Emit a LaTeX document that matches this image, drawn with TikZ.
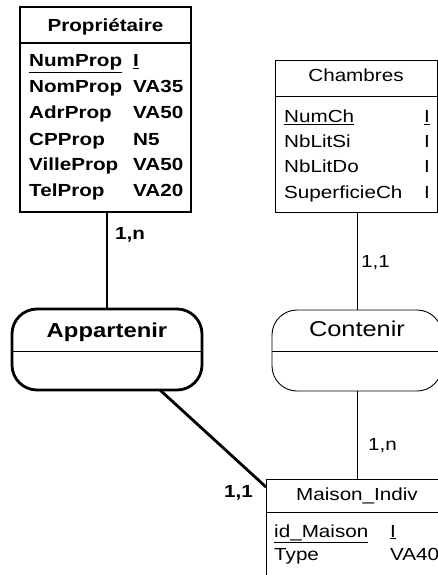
\documentclass[tikz,border=0pt]{standalone}
\usepackage{fontspec}
\setmainfont[FakeStretch=1.18]{Liberation Sans}
\usetikzlibrary{positioning}

\begin{document}
\begin{tikzpicture}[
        x=1pt, y=1pt,
        entite/.style={
            rectangle, draw = black, line width = 0.9pt, inner sep = 0pt, outer sep = 0pt
        },
        entiteForte/.style={
            entite, line width = 2.8pt
        },
        association/.style={
            rectangle, rounded corners = 25pt, draw = black, line width = 0.9pt, inner sep = 0pt, outer sep = 0pt
        },
        texte/.style={
            inner sep = 0pt, anchor = base, font = \fontsize{17.5}{25.2}\selectfont
        },
        texteGras/.style={
            texte, font = \bfseries\fontsize{17.5}{26}\selectfont
        },
        lien/.style={
            draw = black, line width = 0.9pt
        },
        lienFort/.style={
            draw = black, line width = 2.8pt
        },
    ]
    \useasboundingbox (0,0) rectangle (438,-575);
    \clip (0,0) rectangle (438,-575);

    % Propriétaire
    \node (propTitre) [entiteForte, minimum width=171pt, minimum height=36pt] at (105.5,-25) {};
    \node (propCorps) [entiteForte, minimum width=171pt, minimum height=169pt, below=0pt of propTitre] {};
    \node (propNom) [texteGras] at (105.5,-32) {Propriétaire};
    \node (propAttr) [texteGras, anchor=base west] at (29,-67) {\begin{tabular}[t]{@{}p{104pt}@{}l@{}}
        \underline{NumProp} & \underline{I} \\
        NomProp & VA35 \\
        AdrProp & VA50 \\
        CPProp & N5 \\
        VilleProp & VA50 \\
        TelProp & VA20
    \end{tabular}};

    % Chambres
    \node (chambTitre) [entite, minimum width=162pt, minimum height=36pt] at (356,-78) {};
    \node (chambCorps) [entite, minimum width=162pt, minimum height=116pt, below=0pt of chambTitre] {};
    \node (chambNom) [texte] at (356,-82) {Chambres};
    \node (chambAttr) [texte, anchor=base west] at (284,-122.5) {\begin{tabular}[t]{@{}p{140pt}@{}l@{}}
        \underline{NumCh} & \underline{I} \\
        NbLitSi & I \\
        NbLitDo & I \\
        SuperficieCh & I
    \end{tabular}};

    % Maison_Indiv
    \node (maisonTitre) [entite, minimum width=182pt, minimum height=33pt] at (357,-495.5) {};
    \node (maisonCorps) [entite, minimum width=182pt, minimum height=70pt, below=0pt of maisonTitre] {};
    \node (maisonNom) [texte] at (357,-500) {Maison\_Indiv};
    \node (maisonAttr) [texte, font=\fontsize{17.5}{23}\selectfont, anchor=base west] at (274,-537) {\begin{tabular}[t]{@{}p{116pt}@{}l@{}}
        \underline{id\_Maison} & \underline{I} \\
        Type & VA40
    \end{tabular}};

    % Associations
    \node (appartenir) [association, line width=2.8pt, minimum width=190pt, minimum height=81pt] at (107,-349.5) {};
    \draw [lien] ([yshift=-42pt]appartenir.north west) -- ([yshift=-42pt]appartenir.north east);
    \node (appartenirNom) [texteGras, font=\bfseries\fontsize{20.2}{24}\selectfont] at (107,-337) {Appartenir};

    \node (contenir) [association, minimum width=170pt, minimum height=81pt] at (357,-350.5) {};
    \draw [lien] ([yshift=-41pt]contenir.north west) -- ([yshift=-41pt]contenir.north east);
    \node (contenirNom) [texte, font=\fontsize{21.5}{24}\selectfont] at (357,-336) {Contenir};

    % Liens et cardinalités
    \draw [lienFort] (appartenir.north |- propCorps.south) -- (appartenir.north);
    \node (cardProp) [texteGras, anchor=base west] at (115,-239) {1,n};

    \draw [lienFort] ([xshift=53pt]appartenir.south) -- ([yshift=-8pt]maisonTitre.north west);
    \node (cardMaisonA) [texteGras, anchor=base west] at (224,-497) {1,1};

    \draw [lien] (contenir.north |- chambCorps.south) -- (contenir.north);
    \node (cardChamb) [texte, anchor=base west] at (361,-267) {1,1};

    \draw [lien] (contenir.south) -- (contenir.south |- maisonTitre.north);
    \node (cardMaisonC) [texte, anchor=base west] at (368,-450) {1,n};

\end{tikzpicture}
\end{document}
